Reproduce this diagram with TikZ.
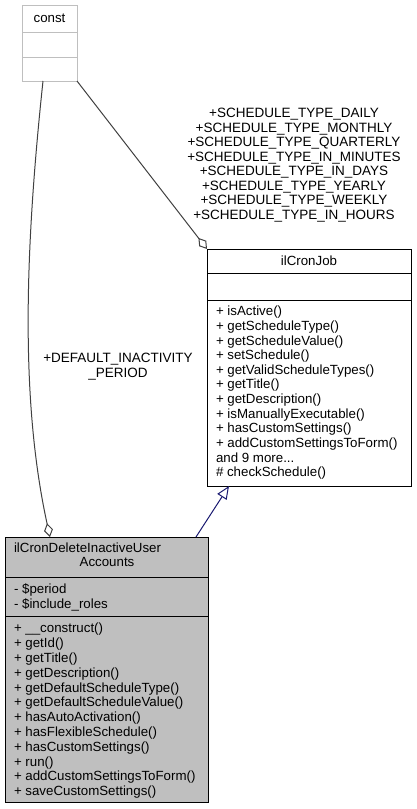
\documentclass[tikz,border=0pt]{standalone}
\usepackage{fontspec}
\setmainfont{Liberation Sans}
\usetikzlibrary{arrows.meta,calc}
\definecolor{boxgray}{HTML}{BFBFBF}
\definecolor{edgegray}{HTML}{404040}
\definecolor{inhblue}{HTML}{191970}
\newcommand\fsz{\fontsize{13.3}{14.64}\selectfont}
\newcommand\fszb{\fontsize{13.3}{14.8}\selectfont}
\newcommand\fszl{\fontsize{13.5}{14.5}\selectfont}
\begin{document}
\begin{tikzpicture}[x=1pt,y=-1pt,
  cls/.style={draw=black, line width=1pt, inner sep=0pt, outer sep=0pt, anchor=north west},
  txt/.style={inner sep=0pt, outer sep=0pt, anchor=north west, align=left, font=\fsz},
  ctxt/.style={inner sep=0pt, outer sep=0pt, anchor=center, align=center, font=\fsz},
  lbl/.style={inner sep=0pt, outer sep=0pt, anchor=center, align=center, font=\fszl},
  agg/.style={draw=edgegray, line width=1pt, -{Diamond[open,length=14pt,width=9pt]}},
  inh/.style={draw=inhblue, line width=1pt, -{Triangle[open,length=13pt,width=11pt]}}]
\useasboundingbox (0,0) rectangle (416,809);

% const
\node[cls, draw=boxgray, minimum width=55pt, minimum height=76pt] (const) at (22,5) {};
\draw[boxgray, line width=1pt] ([yshift=-27pt]const.north west) -- ([yshift=-27pt]const.north east);
\draw[boxgray, line width=1pt] ([yshift=-52pt]const.north west) -- ([yshift=-52pt]const.north east);
\node[ctxt] (constname) at (49.5,19.8) {\strut const};

% ilCronJob
\node[cls, minimum width=204pt, minimum height=237pt] (cronjob) at (207,249) {};
\draw[line width=1pt] ([yshift=-24pt]cronjob.north west) -- ([yshift=-24pt]cronjob.north east);
\draw[line width=1pt] ([yshift=-51pt]cronjob.north west) -- ([yshift=-51pt]cronjob.north east);
\node[ctxt] (cjname) at (309,262.8) {\strut ilCronJob};
\node[txt] (cjops) at (216,305.5) {\strut + isActive()\\
+ getScheduleType()\\
+ getScheduleValue()\\
+ setSchedule()\\
+ getValidScheduleTypes()\\
+ getTitle()\\
+ getDescription()\\
+ isManuallyExecutable()\\
+ hasCustomSettings()\\
+ addCustomSettingsToForm()\\
and 9 more...\\
\# checkSchedule()};

% ilCronDeleteInactiveUserAccounts
\node[cls, fill=boxgray, minimum width=203pt, minimum height=265pt] (del) at (5,537) {};
\draw[line width=1pt] ([yshift=-40pt]del.north west) -- ([yshift=-40pt]del.north east);
\draw[line width=1pt] ([yshift=-79pt]del.north west) -- ([yshift=-79pt]del.north east);
\node[txt] (deltitle) at (14,542.5) {\strut ilCronDeleteInactiveUser};
\node[ctxt] (deltitleb) at (107,563.8) {\strut Accounts};
\node[txt, font=\fszb] (delattr) at (14,583) {\strut - \$period\\
- \$include\_roles};
\node[txt, font=\fszb] (delops) at (14,622.5) {\strut + \_\_construct()\\
+ getId()\\
+ getTitle()\\
+ getDescription()\\
+ getDefaultScheduleType()\\
+ getDefaultScheduleValue()\\
+ hasAutoActivation()\\
+ hasFlexibleSchedule()\\
+ hasCustomSettings()\\
+ run()\\
+ addCustomSettingsToForm()\\
+ saveCustomSettings()};

% edges
\draw[agg] (const.south east) -- (cronjob.north west);
\draw[agg] ([xshift=-6.5pt]const.south) .. controls (25,250) and (20,400) .. ($(del.north west)+(45,0)$);
\draw[inh] ($(del.north west)+(191,0)$) -- ($(cronjob.south west)+(22,0)$);

% edge labels
\node[lbl] (lblcj) at (294,165.8) {\strut +SCHEDULE\_TYPE\_DAILY\\
+SCHEDULE\_TYPE\_MONTHLY\\
+SCHEDULE\_TYPE\_QUARTERLY\\
+SCHEDULE\_TYPE\_IN\_MINUTES\\
+SCHEDULE\_TYPE\_IN\_DAYS\\
+SCHEDULE\_TYPE\_YEARLY\\
+SCHEDULE\_TYPE\_WEEKLY\\
+SCHEDULE\_TYPE\_IN\_HOURS\strut};
\node[lbl] (lbldel) at (118,367.3) {\strut +DEFAULT\_INACTIVITY\\
\_PERIOD\strut};
\end{tikzpicture}
\end{document}
